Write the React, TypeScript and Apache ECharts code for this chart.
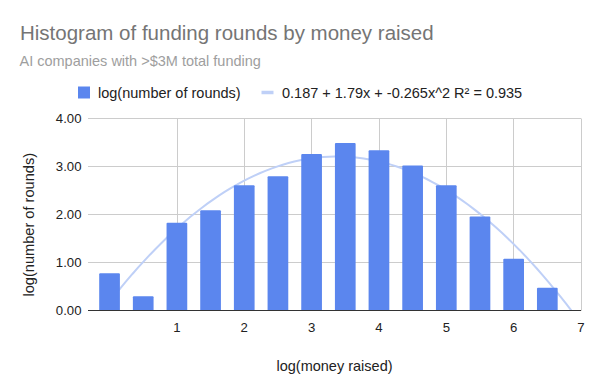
import React, { useEffect, useRef } from "react";
import * as echarts from "echarts";

const titleText = "Histogram of funding rounds by money raised";
const subtitleText = "AI companies with >$3M total funding";
const barSeriesName = "log(number of rounds)";
const trendSeriesName = "0.187 + 1.79x + -0.265x^2 R² = 0.935";
const xAxisName = "log(money raised)";
const yAxisName = "log(number of rounds)";

const binCenters = [0, 0.5, 1, 1.5, 2, 2.5, 3, 3.5, 4, 4.5, 5, 5.5, 6, 6.5];
const roundCounts = [0.78, 0.3, 1.83, 2.09, 2.61, 2.8, 3.26, 3.49, 3.34, 3.02, 2.61, 1.96, 1.08, 0.48];
const trendCoefficients = [0.187, 1.79, -0.265];
const trendRange = [0, 6.858];
const xTickValues = [1, 2, 3, 4, 5, 6, 7];

export default function App() {
  const ref = useRef<HTMLDivElement>(null);
  useEffect(() => {
    if (!ref.current) return;
    const chart = echarts.init(ref.current, null, { renderer: "svg" });
    const trend: number[][] = [];
    const steps = 80;
    for (let i = 0; i <= steps; i++) {
      const x = trendRange[0] + ((trendRange[1] - trendRange[0]) * i) / steps;
      const y = trendCoefficients[0] + trendCoefficients[1] * x + trendCoefficients[2] * x * x;
      trend.push([x, y]);
    }
    const font = "Liberation Sans, Arial, sans-serif";
    chart.setOption({
      animation: false,
      backgroundColor: "#ffffff",
      textStyle: { fontFamily: font },
      title: [
        {
          text: titleText,
          left: 20,
          top: 22,
          padding: 0,
          textStyle: { fontSize: 20.5, fontWeight: "normal", color: "#757575", fontFamily: font },
        },
        {
          text: subtitleText,
          left: 19.5,
          top: 53,
          padding: 0,
          textStyle: { fontSize: 14.5, fontWeight: "normal", color: "#9e9e9e", fontFamily: font },
        },
      ],
      legend: [
        {
          data: [barSeriesName],
          left: 78,
          top: 85,
          padding: 0,
          itemWidth: 12,
          itemHeight: 12,
          icon: "rect",
          textStyle: { fontSize: 14.5, color: "#222222", fontFamily: font, padding: [0, 0, 0, 3] },
        },
        {
          data: [trendSeriesName],
          left: 261.5,
          top: 85,
          padding: 0,
          itemWidth: 12,
          itemHeight: 3.5,
          icon: "rect",
          textStyle: { fontSize: 14.5, color: "#222222", fontFamily: font, padding: [0, 0, 0, 3.5] },
        },
      ],
      grid: { left: 88, right: 19, top: 118.5, bottom: 81.3, containLabel: false },
      xAxis: {
        type: "value",
        min: -0.32,
        max: 7,
        axisLine: { show: false },
        axisTick: { show: false, customValues: xTickValues },
        axisLabel: {
          customValues: xTickValues,
          fontSize: 13.2,
          color: "#222222",
          margin: 10,
          fontFamily: font,
        },
        splitLine: { show: true, lineStyle: { color: "#cccccc", width: 1 } },
        name: xAxisName,
        nameLocation: "middle",
        nameGap: 47.5,
        nameTextStyle: { fontSize: 14.5, color: "#222222", fontFamily: font },
      },
      yAxis: {
        type: "value",
        min: 0,
        max: 4,
        interval: 1,
        axisLine: { show: false },
        axisTick: { show: false },
        axisLabel: {
          formatter: (v: number) => v.toFixed(2),
          fontSize: 13.2,
          color: "#222222",
          margin: 6.5,
          fontFamily: font,
        },
        splitLine: { show: true, lineStyle: { color: "#cccccc", width: 1 } },
      },
      graphic: [
        {
          type: "text",
          x: 29,
          y: 224.7,
          rotation: Math.PI / 2,
          style: {
            text: yAxisName,
            fontSize: 14.6,
            fill: "#222222",
            fontFamily: font,
            align: "center",
            verticalAlign: "middle",
          },
        },
      ],
      series: [
        {
          name: trendSeriesName,
          type: "line",
          data: trend,
          showSymbol: false,
          smooth: false,
          z: 1,
          lineStyle: { color: "#bfd0f7", width: 2 },
          itemStyle: { color: "#bfd0f7" },
          markLine: {
            silent: true,
            symbol: "none",
            label: { show: false },
            lineStyle: { color: "#333333", width: 1, type: "solid" },
            data: [{ yAxis: 0 }],
          },
        },
        {
          name: barSeriesName,
          type: "bar",
          data: binCenters.map((x, i) => [x, roundCounts[i]]),
          barWidth: 20.7,
          z: 2,
          itemStyle: { color: "#5b86ee", borderRadius: [1, 1, 0, 0] },
        },
      ],
    });
    return () => chart.dispose();
  }, []);
  return <div ref={ref} style={{ width: 600, height: 392, position: "absolute", left: 0, top: 0 }} />;
}
